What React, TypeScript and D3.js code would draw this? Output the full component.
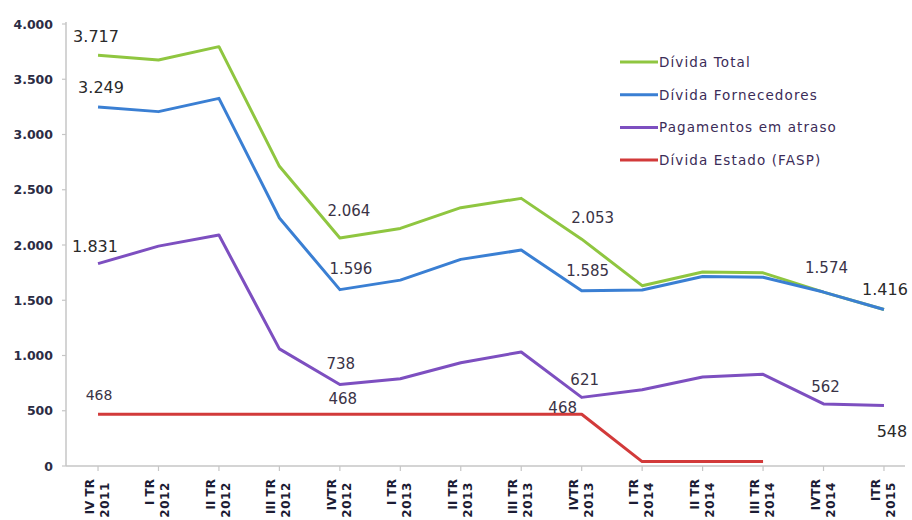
import React, { useEffect, useRef } from 'react';
import * as d3 from 'd3';

const quarters = ['IV TR', 'I TR', 'II TR', 'III TR', 'IVTR', 'I TR', 'II TR', 'III TR', 'IVTR', 'I TR', 'II TR', 'III TR', 'IVTR', 'ITR'];
const years = ['2011', '2012', '2012', '2012', '2012', '2013', '2013', '2013', '2013', '2014', '2014', '2014', '2014', '2015'];

const dividaTotal = [3717, 3675, 3795, 2712, 2064, 2150, 2338, 2422, 2053, 1632, 1755, 1748, 1574, 1416];
const dividaFornecedores = [3249, 3207, 3327, 2244, 1596, 1682, 1870, 1954, 1585, 1592, 1715, 1708, 1574, 1416];
const pagamentosAtraso = [1831, 1990, 2090, 1060, 738, 790, 935, 1032, 621, 690, 805, 830, 562, 548];
const dividaEstado: (number | null)[] = [468, 468, 468, 468, 468, 468, 468, 468, 468, 40, 40, 40, null, null];

const yTicks = [0, 500, 1000, 1500, 2000, 2500, 3000, 3500, 4000];

const seriesNames = ['Dívida Total', 'Dívida Fornecedores', 'Pagamentos em atraso', 'Dívida Estado (FASP)'];
const seriesColors = ['#8fc640', '#3a7fd3', '#7d4fc0', '#d23a3a'];

// data labels: series index, category index
const labelSeries = [0, 1, 2, 0, 1, 2, 3, 0, 1, 2, 3, 3, 0, 2, 0, 2];
const labelIndex = [0, 0, 0, 4, 4, 4, 4, 8, 8, 8, 8, 0, 12, 12, 13, 13];

const App: React.FC = () => {
  const ref = useRef<SVGSVGElement>(null);

  useEffect(() => {
    if (!ref.current) return;
    const width = 912;
    const height = 520;

    const svg = d3.select(ref.current).attr('width', width).attr('height', height);
    svg.selectAll('*').remove();

    const all = [dividaTotal, dividaFornecedores, pagamentosAtraso, dividaEstado];
    const idx = d3.range(quarters.length);

    const x = d3.scalePoint<number>().domain(idx).range([67.8, 914.2]).padding(0.5);
    const y = d3.scaleLinear().domain([0, 4000]).range([466, 24]);

    const fmt = d3.formatLocale({ decimal: ',', thousands: '.', grouping: [3], currency: ['€', ''] }).format(',d');

    const axisColor = '#c6c6c6';

    // y axis
    svg.append('line')
      .attr('x1', 66).attr('x2', 66).attr('y1', y(4000) - 2).attr('y2', y(0))
      .attr('stroke', axisColor).attr('stroke-width', 1.5);
    const yt = svg.append('g');
    yt.selectAll('line').data(yTicks).join('line')
      .attr('x1', 62).attr('x2', 66)
      .attr('y1', d => y(d)).attr('y2', d => y(d))
      .attr('stroke', axisColor).attr('stroke-width', 1.2);
    yt.selectAll('text').data(yTicks).join('text')
      .attr('x', 53).attr('y', d => y(d)).attr('dy', '0.36em')
      .attr('text-anchor', 'end')
      .attr('font-family', 'DejaVu Sans')
      .attr('font-weight', 'bold')
      .attr('font-size', 12.5)
      .attr('fill', '#2c2c44')
      .text(d => fmt(d));

    // x axis
    svg.append('line')
      .attr('x1', 66).attr('x2', 905).attr('y1', y(0)).attr('y2', y(0))
      .attr('stroke', axisColor).attr('stroke-width', 1.5);
    const xt = svg.append('g');
    xt.selectAll('line').data(idx).join('line')
      .attr('x1', d => x(d)!).attr('x2', d => x(d)!)
      .attr('y1', y(0)).attr('y2', y(0) + 5)
      .attr('stroke', axisColor).attr('stroke-width', 1.2);
    const xl = xt.selectAll('g.lbl').data(idx).join('g')
      .attr('class', 'lbl')
      .attr('transform', d => `translate(${x(d)},479) rotate(-90)`);
    xl.append('text')
      .attr('x', 0).attr('y', -4)
      .attr('text-anchor', 'end')
      .attr('font-family', 'DejaVu Sans')
      .attr('font-weight', 'bold')
      .attr('font-size', 12)
      .attr('fill', '#1c1c34')
      .text(d => quarters[d]);
    xl.append('text')
      .attr('x', -3).attr('y', 11)
      .attr('text-anchor', 'end')
      .attr('font-family', 'DejaVu Sans')
      .attr('font-weight', 'bold')
      .attr('font-size', 12)
      .attr('letter-spacing', 0.6)
      .attr('fill', '#1c1c34')
      .text(d => years[d]);

    // lines
    const line = d3.line<number>()
      .x(i => x(i)!)
      .curve(d3.curveLinear);

    [3, 2, 0, 1].forEach(s => {
      const vals = all[s];
      const pts = idx.filter(i => vals[i] !== null);
      svg.append('path')
        .datum(pts)
        .attr('fill', 'none')
        .attr('stroke', seriesColors[s])
        .attr('stroke-width', 3)
        .attr('stroke-linejoin', 'round')
        .attr('d', line.y(i => y(vals[i] as number)) as any);
    });

    // data labels
    const offs: [number, number, number][] = [
      [-2, -13, 16], [3, -14, 16], [-3, -12, 16],
      [9, -22, 15], [11, -16, 15], [1, -15, 15], [3, -10, 15],
      [11, -16, 15], [6, -15, 15], [3, -12, 15], [-19, -1, 15],
      [1, -14, 14], [3, -19, 15], [2, -12, 15], [1, -15, 16], [8, 32, 16],
    ];
    svg.append('g').selectAll('text').data(labelSeries.map((s, k) => k)).join('text')
      .attr('x', k => x(labelIndex[k])! + offs[k][0])
      .attr('y', k => y(all[labelSeries[k]][labelIndex[k]] as number) + offs[k][1])
      .attr('text-anchor', 'middle')
      .attr('font-family', 'DejaVu Sans')
      .attr('font-size', k => offs[k][2])
      .attr('fill', k => (offs[k][2] === 16 ? '#2a2a2a' : '#3a3346'))
      .text(k => fmt(all[labelSeries[k]][labelIndex[k]] as number));

    // legend
    const lg = svg.append('g').selectAll('g').data(seriesNames).join('g')
      .attr('transform', (d, i) => `translate(620,${62 + i * 32.7})`);
    lg.append('line')
      .attr('x1', 0).attr('x2', 38).attr('y1', 0).attr('y2', 0)
      .attr('stroke', (d, i) => seriesColors[i]).attr('stroke-width', 3);
    lg.append('text')
      .attr('x', 39).attr('y', 0).attr('dy', '0.36em')
      .attr('font-family', 'DejaVu Sans')
      .attr('font-size', 13.5)
      .attr('letter-spacing', 1.1)
      .attr('fill', '#3b2c58')
      .text(d => d);
  }, []);

  return <svg ref={ref} style={{ position: 'absolute', left: 0, top: 0, background: '#fff' }}></svg>;
};

export default App;
